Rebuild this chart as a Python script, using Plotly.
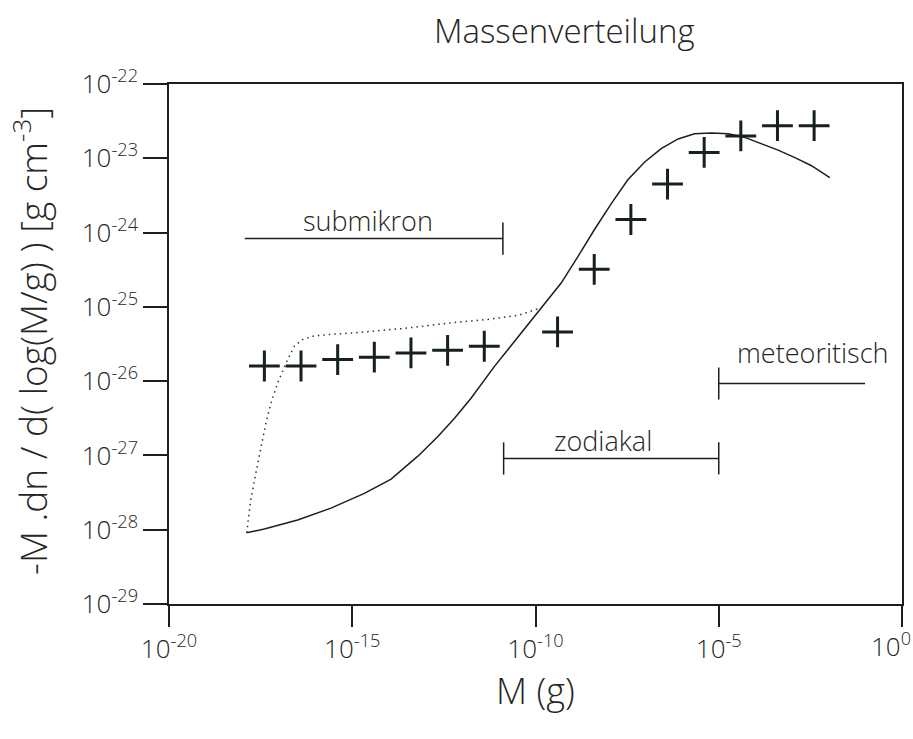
import math
import plotly.graph_objects as go

# --- Measured points (plus markers) ---
meas_mass = [4.0e-18, 4.0e-17, 4.0e-16, 4.0e-15, 4.0e-14, 4.0e-13, 4.0e-12,
             4.0e-10, 4.0e-9, 4.0e-8, 4.0e-7, 4.0e-6, 4.0e-5, 4.0e-4, 4.0e-3]
meas_density = [1.6e-26, 1.6e-26, 1.95e-26, 2.1e-26, 2.4e-26, 2.6e-26, 2.95e-26,
                4.6e-26, 3.2e-25, 1.5e-24, 4.5e-24, 1.2e-23, 2.0e-23, 2.75e-23, 2.75e-23]

# --- Model distribution (solid curve) ---
model_mass = [1.32e-18, 4.0e-18, 3.24e-17, 2.63e-16, 2.14e-15, 1.15e-14, 6.17e-14,
              2.14e-13, 6.17e-13, 1.74e-12, 7.59e-12, 4.07e-11, 1.45e-10, 5.01e-10,
              1.45e-9, 4.07e-9, 1.17e-8, 3.31e-8, 9.55e-8, 2.69e-7, 7.76e-7, 2.19e-6,
              6.31e-6, 1.82e-5, 5.13e-5, 1.48e-4, 4.17e-4, 1.20e-3, 3.39e-3, 1.07e-2]
model_density = [9.12e-29, 1.02e-28, 1.35e-28, 1.95e-28, 3.09e-28, 4.79e-28, 9.77e-28,
                 1.78e-27, 3.16e-27, 5.89e-27, 1.58e-26, 4.47e-26, 9.77e-26, 2.09e-25,
                 4.79e-25, 1.10e-24, 2.45e-24, 5.13e-24, 8.91e-24, 1.35e-23, 1.82e-23, 2.14e-23,
                 2.19e-23, 2.14e-23, 1.91e-23, 1.58e-23, 1.29e-23, 1.02e-23, 7.94e-24, 5.50e-24]

# --- Alternative small-particle branch (dotted curve) ---
alt_mass = [1.32e-18, 1.70e-18, 2.34e-18, 3.24e-18, 4.37e-18, 6.03e-18, 9.12e-18,
            1.55e-17, 2.63e-17, 4.37e-17, 9.12e-17, 2.63e-16, 1.12e-15, 2.63e-14,
            6.17e-13, 5.01e-12, 3.63e-11, 1.45e-10]
alt_density = [9.12e-29, 2.51e-28, 5.75e-28, 1.32e-27, 2.69e-27, 5.01e-27, 9.33e-27,
               1.74e-26, 2.95e-26, 3.63e-26, 4.07e-26, 4.27e-26, 4.47e-26, 5.13e-26,
               6.17e-26, 6.76e-26, 7.76e-26, 9.77e-26]

# --- Mass ranges of the particle populations ---
range_names = ["submikron", "zodiakal", "meteoritisch"]
range_lo = [1.17e-18, 1.35e-11, 1.0e-5]
range_hi = [1.29e-11, 1.0e-5, 9.8e-2]
range_level = [8.3e-25, 9.1e-28, 9.3e-27]

# --- Axis ticks ---
x_tickvals = [1e-20, 1e-15, 1e-10, 1e-5, 1e0]
x_ticktext = ["10<sup>-20</sup>", "10<sup>-15</sup>", "10<sup>-10</sup>",
              "10<sup>-5</sup>", "10<sup>0</sup>"]
y_tickvals = [1e-29, 1e-28, 1e-27, 1e-26, 1e-25, 1e-24, 1e-23, 1e-22]
y_ticktext = ["10<sup>-29</sup>", "10<sup>-28</sup>", "10<sup>-27</sup>", "10<sup>-26</sup>",
              "10<sup>-25</sup>", "10<sup>-24</sup>", "10<sup>-23</sup>", "10<sup>-22</sup>"]

FONT = "'Open Sans', 'Liberation Sans', Arial, sans-serif"
TEXT = "#262626"
INK = "#1e1e1e"
TICK_FONT = dict(family=FONT, size=26, color=TEXT, weight=300)

fig = go.Figure()

fig.add_trace(go.Scatter(x=alt_mass, y=alt_density, mode="lines",
                         line=dict(color="#333333", width=1.5, dash="1.5px,4px"),
                         hoverinfo="skip"))
fig.add_trace(go.Scatter(x=model_mass, y=model_density, mode="lines",
                         line=dict(color=INK, width=1.5), hoverinfo="skip"))
fig.add_trace(go.Scatter(x=meas_mass, y=meas_density, mode="markers",
                         marker=dict(symbol="cross-thin", size=22, color="#15201f",
                                     line=dict(color="#15201f", width=3))))

# range bars with end ticks
end_ticks = [[False, True], [True, True], [True, False]]
for name, lo, hi, lev, ends in zip(range_names, range_lo, range_hi, range_level, end_ticks):
    fig.add_trace(go.Scatter(x=[lo, hi], y=[lev, lev], mode="lines",
                             line=dict(color=INK, width=1.5), hoverinfo="skip"))
    tx = [v for v, e in zip([lo, hi], ends) if e]
    fig.add_trace(go.Scatter(x=tx, y=[lev] * len(tx), mode="markers",
                             marker=dict(symbol="line-ns", size=23, color=INK,
                                         line=dict(color=INK, width=1.5)),
                             hoverinfo="skip"))

# range labels (annotations on log axes take log10 coordinates)
label_pos = {"submikron": (2.7e-15, 1.45e-24),
             "zodiakal": (7.1e-9, 1.58e-27),
             "meteoritisch": (3.6e-3, 2.4e-26)}
for name in range_names:
    lx, ly = label_pos[name]
    fig.add_annotation(x=math.log10(lx), y=math.log10(ly), xref="x", yref="y",
                       text=name, showarrow=False,
                       font=dict(family=FONT, size=27, color=TEXT, weight=300),
                       xanchor="center", yanchor="middle")

# the last x tick label sits at the right edge, so it is right-anchored
x_ticktext_axis = x_ticktext[:-1] + [""]
fig.add_annotation(text=x_ticktext[-1], x=math.log10(x_tickvals[-1]), xref="x",
                   y=0, yref="paper", xanchor="right", yanchor="middle",
                   xshift=11, yshift=-41, showarrow=False, font=TICK_FONT)

fig.add_annotation(text="Massenverteilung", xref="paper", yref="paper",
                   x=0.540, y=1.0, yshift=54, xanchor="center", yanchor="middle",
                   showarrow=False, font=dict(family=FONT, size=33, color=TEXT, weight=300))
fig.add_annotation(text="M (g)", xref="paper", yref="paper",
                   x=0.5, y=0.0, yshift=-86, xanchor="center", yanchor="middle",
                   showarrow=False, font=dict(family=FONT, size=36, color=TEXT, weight=300))
fig.add_annotation(text="-M .dn / d( log(M/g) ) [g cm<sup>-3</sup>]", xref="paper", yref="paper",
                   x=0.0, xshift=-139, y=0.5, yshift=3, xanchor="center", yanchor="middle",
                   textangle=-90, showarrow=False,
                   font=dict(family=FONT, size=37, color=TEXT, weight=300))

axis_common = dict(showgrid=False, zeroline=False, showline=True, linecolor=INK,
                   linewidth=1.5, mirror=True, ticks="outside", tickcolor=INK,
                   tickwidth=1.5, ticklabeloverflow="allow", automargin=False,
                   tickfont=TICK_FONT)

fig.update_xaxes(type="log", range=[-20, 0], tickvals=x_tickvals, ticktext=x_ticktext_axis,
                 ticklen=21, **axis_common)
fig.update_yaxes(type="log", range=[-29, -22], tickvals=y_tickvals, ticktext=y_ticktext,
                 ticklen=24, **axis_common)

fig.update_layout(width=913, height=739, showlegend=False,
                  margin=dict(l=169, r=11, t=84, b=135, autoexpand=False),
                  paper_bgcolor="white", plot_bgcolor="white")

fig.write_html("out.html")
